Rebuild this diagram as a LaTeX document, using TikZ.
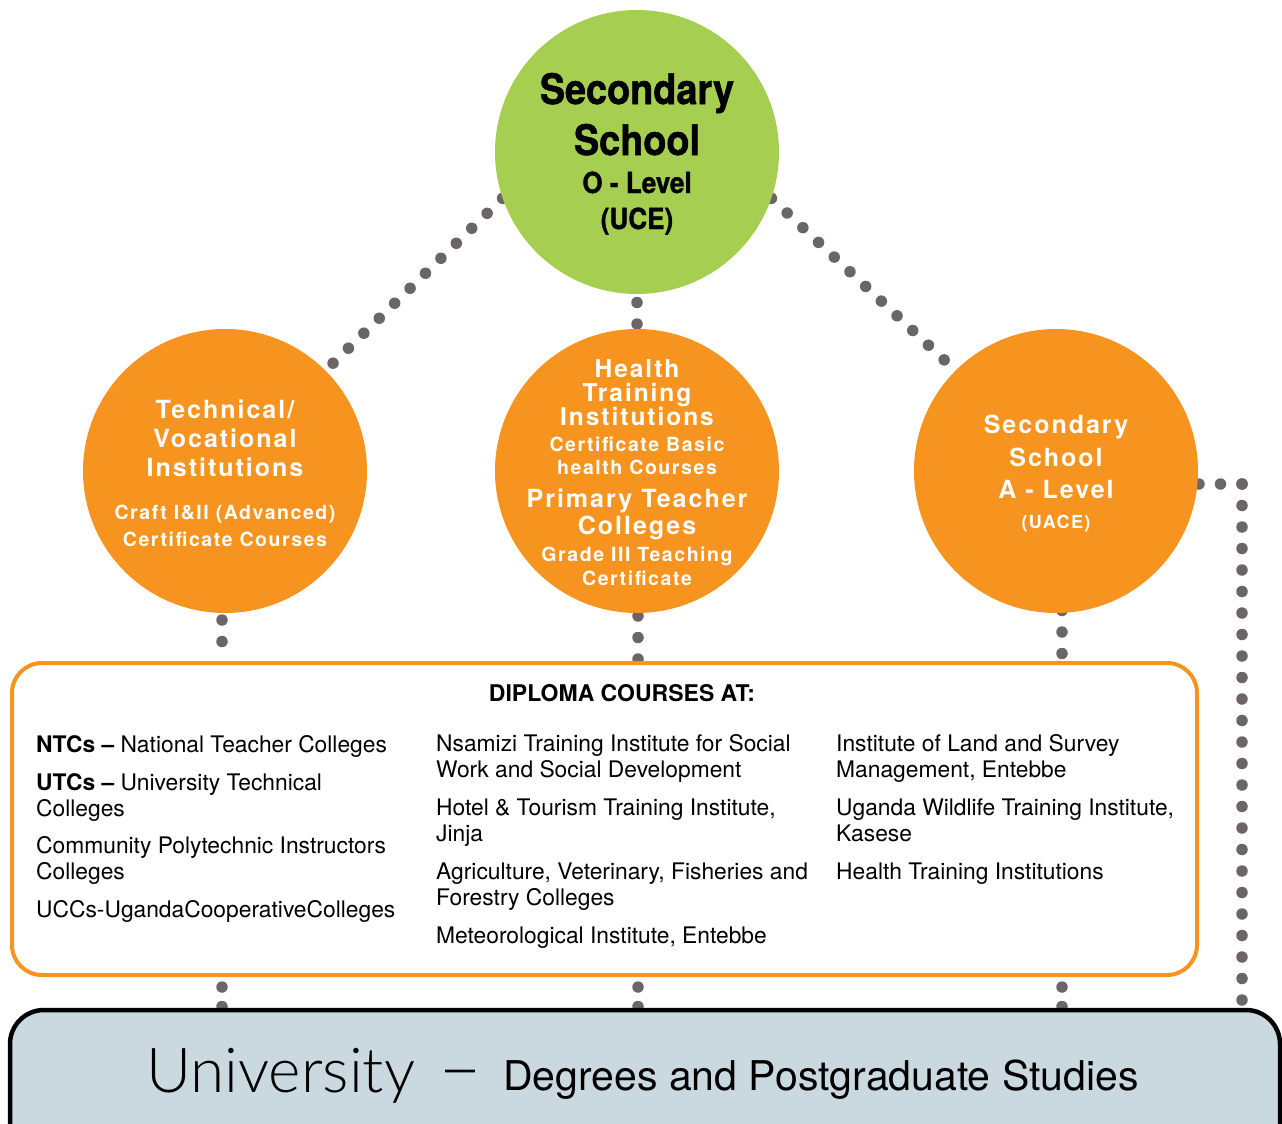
\documentclass[tikz,border=0pt]{standalone}
\usepackage{fontspec}
\setmainfont{TeX Gyre Heros}
\newfontfamily\condfont{TeX Gyre Heros}[FakeStretch=0.9,FakeBold=1.2]
\newfontfamily\spaced{TeX Gyre Heros}[LetterSpace=8]
\newfontfamily\lightfont{Lato Light}
\usetikzlibrary{backgrounds}
\definecolor{sgreen}{HTML}{A6CE50}
\definecolor{sorange}{HTML}{F6941F}
\definecolor{dotgray}{HTML}{6C6567}
\definecolor{ublue}{HTML}{C9D9DF}
\newcommand\mytext[5]{\node[#1] (#2) at (#3) {\fontsize{#4}{#4}\selectfont #5};}
\tikzset{
  bigcirc/.style={circle, minimum size=284pt, inner sep=0pt},
  dotline/.style={draw=dotgray, line width=11.5pt, line cap=round, dash pattern=on 0pt off 21.5pt},
  lowdots/.style={draw=dotgray, line width=11.5pt, line cap=round, dash pattern=on 0pt off 19.5pt, dash phase=9.5pt},
  wt/.style={anchor=base, inner sep=0pt, text=white, font=\spaced\bfseries},
  gt/.style={anchor=base, inner sep=0pt, text=black, font=\condfont\bfseries},
  bt/.style={anchor=base west, inner sep=0pt, text=black},
}
\begin{document}
\begin{tikzpicture}[x=1pt,y=-1pt]
\useasboundingbox (0,0) rectangle (1282,1124);
\clip (0,0) rectangle (1282,1124);

% circles
\node[bigcirc, fill=sgreen] (top) at (637,152) {};
\node[bigcirc, fill=sorange] (tech) at (225,471) {};
\node[bigcirc, fill=sorange] (health) at (637,471) {};
\node[bigcirc, fill=sorange] (alevel) at (1056,471) {};

% boxes
\node[draw=sorange, line width=4pt, rounded corners=30pt, fill=white,
      minimum width=1185pt, minimum height=312pt, inner sep=0pt] (diploma) at (604.5,819) {};
\node[draw=black, line width=4.5pt, rounded corners=34pt, fill=ublue,
      minimum width=1270pt, minimum height=160pt, inner sep=0pt] (univ) at (645,1090) {};

% connectors
\begin{scope}[on background layer]
\draw[dotline] (top.199) -- (tech.45);
\draw[dotline] (top.341) -- (alevel.135);
\draw[dotline] (top.center) -- (health.center);
\draw[dotline, dash phase=1.5pt] ([xshift=-3pt]tech.center) -- ([xshift=-3pt]tech.center |- diploma.north);
\draw[dotline, dash phase=5.5pt] ([xshift=1pt]health.center) -- ([xshift=1pt]health.center |- diploma.north);
\draw[dotline, dash phase=11pt] ([xshift=6pt]alevel.center) -- ([xshift=6pt]alevel.center |- diploma.north);
\draw[lowdots] ([xshift=-3pt]tech.center |- diploma.south) -- ([xshift=-3pt]tech.center |- univ.north);
\draw[lowdots] ([xshift=1pt]health.center |- diploma.south) -- ([xshift=1pt]health.center |- univ.north);
\draw[lowdots] ([xshift=6pt]alevel.center |- diploma.south) -- ([xshift=6pt]alevel.center |- univ.north);
\coordinate (corner) at (1242,484);
\draw[dotline] (corner) -- (alevel.center |- corner);
\draw[dotline] (corner) -- (corner |- univ.north);
\end{scope}

% green circle text
\mytext{gt}{g1}{637,104}{42}{Secondary}
\mytext{gt}{g2}{637,155}{42}{School}
\mytext{gt}{g3}{637,193}{29}{O - Level}
\mytext{gt}{g4}{637,229}{29}{(UCE)}

% left circle text
\mytext{wt}{l1}{225,418}{25}{Technical/}
\mytext{wt}{l2}{225,447}{25}{Vocational}
\mytext{wt}{l3}{225,476}{25}{Institutions}
\mytext{wt}{l4}{225,519}{19.5}{Craft I\&II (Advanced)}
\mytext{wt}{l5}{225,546}{19.5}{Certificate Courses}

% middle circle text
\mytext{wt}{m1}{637,377}{24.5}{Health}
\mytext{wt}{m2}{637,401}{24.5}{Training}
\mytext{wt}{m3}{637,425}{24.5}{Institutions}
\mytext{wt}{m4}{637,451}{19.5}{Certificate Basic}
\mytext{wt}{m5}{637,474}{19.5}{health Courses}
\mytext{wt}{m6}{637,507}{25}{Primary Teacher}
\mytext{wt}{m7}{637,534}{25}{Colleges}
\mytext{wt}{m8}{637,561}{19.5}{Grade III Teaching}
\mytext{wt}{m9}{637,585}{19.5}{Certificate}

% right circle text
\mytext{wt}{r1}{1056,433}{25}{Secondary}
\mytext{wt}{r2}{1056,466}{25}{School}
\mytext{wt}{r3}{1056,498}{25}{A - Level}
\mytext{wt}{r4}{1056,528}{18}{(UACE)}

% diploma box text
\mytext{anchor=base, inner sep=0pt, font=\bfseries}{dt}{622,701}{23}{DIPLOMA COURSES AT:}
\mytext{bt}{a1}{36,752}{22.8}{\textbf{NTCs –} National Teacher Colleges}
\mytext{bt}{a2}{36,790}{22.8}{\textbf{UTCs –} University Technical}
\mytext{bt}{a3}{36,816}{22.8}{Colleges}
\mytext{bt}{a4}{36,853}{22.8}{Community Polytechnic Instructors}
\mytext{bt}{a5}{36,879}{22.8}{Colleges}
\mytext{bt}{a6}{36,917}{22.8}{UCCs-UgandaCooperativeColleges}
\mytext{bt}{b1}{436,751}{22.8}{Nsamizi Training Institute for Social}
\mytext{bt}{b2}{436,777}{22.8}{Work and Social Development}
\mytext{bt}{b3}{436,815}{22.8}{Hotel \& Tourism Training Institute,}
\mytext{bt}{b4}{436,841}{22.8}{Jinja}
\mytext{bt}{b5}{436,879}{22.8}{Agriculture, Veterinary, Fisheries and}
\mytext{bt}{b6}{436,905}{22.8}{Forestry Colleges}
\mytext{bt}{b7}{436,943}{22.8}{Meteorological Institute, Entebbe}
\mytext{bt}{c1}{836,751}{22.8}{Institute of Land and Survey}
\mytext{bt}{c2}{836,777}{22.8}{Management, Entebbe}
\mytext{bt}{c3}{836,815}{22.8}{Uganda Wildlife Training Institute,}
\mytext{bt}{c4}{836,841}{22.8}{Kasese}
\mytext{bt}{c5}{836,879}{22.8}{Health Training Institutions}

% university text
\mytext{bt, font=\lightfont}{u1}{146,1092}{62}{University}
\mytext{bt, font=\lightfont}{u2}{438,1093}{76}{–}
\mytext{bt}{u3}{503,1090}{41}{Degrees and Postgraduate Studies}
\end{tikzpicture}
\end{document}
